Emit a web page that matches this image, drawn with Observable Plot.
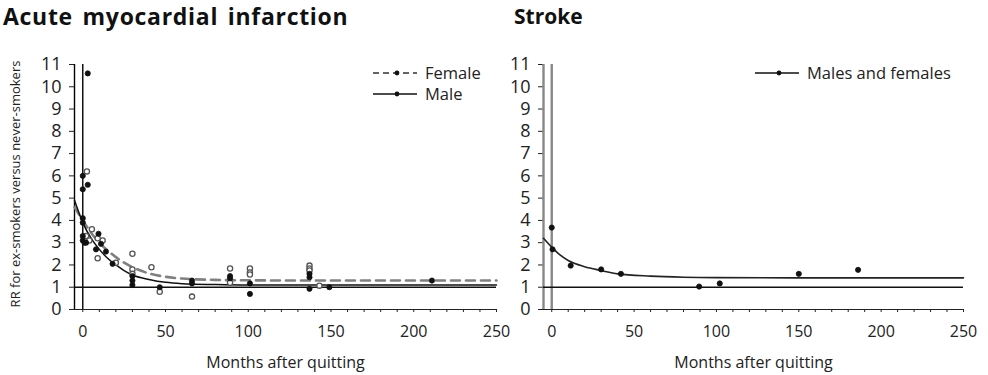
<!DOCTYPE html>
<html><head><meta charset="utf-8">
<script src="https://cdn.jsdelivr.net/npm/d3@7"></script>
<script src="https://cdn.jsdelivr.net/npm/@observablehq/plot@0.6"></script>
<style>
body{margin:0;background:#fff;font-family:"Open Sans",sans-serif;color:#222}
#wrap{position:relative;width:988px;height:375px;overflow:hidden}
.title{position:absolute;top:0px;font-weight:700;font-size:23px;color:#111;line-height:32px}
.panel{position:absolute;top:40px}
.legend{position:absolute;font-size:16.5px;color:#222;line-height:21px}
.legend div{display:flex;align-items:center;height:21px;line-height:21px}
.legend svg{margin-right:7px}
</style></head><body>
<div id="wrap">
  <div class="title" style="left:3px;letter-spacing:0.7px;word-spacing:3px">Acute myocardial infarction</div>
  <div class="title" style="left:514px;font-size:21px">Stroke</div>
  <div class="panel" id="left" style="left:0px"></div>
  <div class="panel" id="right" style="left:470px"></div>
  <div class="legend" id="legL" style="left:372px;top:62px"></div>
  <div class="legend" id="legR" style="left:754px;top:62px"></div>
</div>
<script>
// ---- Acute myocardial infarction: observed points ----
const amiMaleMonths = [3, 0, 3, 0, 0, 0, 0, 0, 1, 2, 9.5, 11, 8, 14, 18, 30, 30, 30, 46.5, 66, 66, 89, 89, 101, 101, 137, 137, 137, 149, 211];
const amiMaleRR     = [10.6, 6.0, 5.6, 5.4, 4.1, 3.9, 3.3, 3.1, 3.0, 3.0, 3.4, 2.95, 2.7, 2.6, 2.05, 1.5, 1.3, 1.1, 1.0, 1.3, 1.17, 1.5, 1.4, 1.17, 0.7, 1.6, 1.45, 0.93, 1.0, 1.3];
const amiFemaleMonths = [2.5, 2, 4, 5.5, 12, 9, 9, 20, 30, 30, 30, 41.5, 46.5, 66, 89, 89, 101, 101, 101, 137, 137, 137, 143];
const amiFemaleRR     = [6.2, 3.3, 3.1, 3.6, 3.1, 3.2, 2.3, 2.1, 2.5, 1.8, 1.6, 1.9, 0.8, 0.58, 1.84, 1.2, 1.84, 1.66, 1.57, 1.97, 1.84, 1.75, 1.07];
// ---- fitted curves ----
const amiCurveMonths = [-5, 0, 5, 10, 15, 20, 25, 30, 40, 50, 60, 80, 100, 150, 200, 250];
const amiMaleCurve   = [4.9, 3.9, 3.2, 2.7, 2.3, 2.0, 1.75, 1.55, 1.35, 1.22, 1.16, 1.12, 1.1, 1.1, 1.1, 1.1];
const amiFemaleCurve = [4.6, 4.0, 3.45, 3.0, 2.65, 2.35, 2.1, 1.9, 1.62, 1.47, 1.39, 1.33, 1.31, 1.3, 1.3, 1.3];
// ---- Stroke ----
const strokeMonths = [0, 0.5, 11.5, 30, 42, 89.5, 102, 150, 186];
const strokeRR     = [3.68, 2.7, 1.97, 1.8, 1.6, 1.03, 1.17, 1.6, 1.78];
const strokeCurveMonths = [-5, 0, 5, 10, 20, 30, 40, 60, 80, 100, 150, 250];
const strokeCurve       = [3.2, 2.8, 2.45, 2.2, 1.92, 1.75, 1.6, 1.5, 1.45, 1.43, 1.42, 1.42];
// ---- axes ----
const xTicks = d3.range(0, 251, 10);
const xTickLabels = [0, 50, 100, 150, 200, 250];
const yTicks = d3.range(0, 12, 1);
const xLabel = "Months after quitting";
const yLabel = "RR for ex-smokers versus never-smokers";

const zip = (xs, ys) => xs.map((x, i) => ({x, y: ys[i]}));

function basePlot(opts) {
  const {marks, width, marginLeft, marginRight, vColor, withYLabel} = opts;
  const black = vColor === "#000";
  return Plot.plot({
    width, height: 335,
    marginTop: 24, marginBottom: 66, marginLeft, marginRight,
    style: {fontFamily: "Open Sans, sans-serif", fontSize: "18px", color: "#222", background: "transparent", overflow: "visible"},
    x: {domain: [-5, 250]},
    y: {domain: [0, 11]},
    marks: [
      Plot.axisY(yTicks, {anchor: "left", tickSize: 5, tickPadding: 8, fontSize: 18, label: null}),
      Plot.axisX(xTicks, {anchor: "bottom", tickSize: 3, tickPadding: 13, fontSize: 16, label: null,
        tickFormat: d => xTickLabels.includes(d) ? String(d) : ""}),
      Plot.ruleX([-5], {y1: 0, y2: 11, stroke: vColor, strokeWidth: black ? 1.4 : 2.4}),
      Plot.ruleX([0], {y1: 0, y2: 11, stroke: vColor, strokeWidth: black ? 1.4 : 2.4}),
      Plot.ruleY([0], {x1: -5, x2: 250, stroke: "#222", strokeWidth: 1.2}),
      Plot.ruleY([1], {x1: -5, x2: 250, stroke: "#111", strokeWidth: 1.5}),
      ...marks,
      Plot.text([xLabel], {frameAnchor: "bottom", dy: 58, fontSize: 16, fill: "#222"}),
      ...(withYLabel ? [Plot.text([yLabel], {frameAnchor: "left", textAnchor: "middle", rotate: -90, dx: -59, dy: -3, fontSize: 13, fill: "#222"})] : [])
    ]
  });
}

const left = basePlot({
  width: 505, marginLeft: 74, marginRight: 9, vColor: "#000", withYLabel: true,
  marks: [
    Plot.line(zip(amiCurveMonths, amiFemaleCurve), {x: "x", y: "y", curve: "monotone-x", stroke: "#808080", strokeWidth: 2.6, strokeDasharray: "9,6"}),
    Plot.line(zip(amiCurveMonths, amiMaleCurve), {x: "x", y: "y", curve: "monotone-x", stroke: "#111", strokeWidth: 1.5}),
    Plot.dot(zip(amiFemaleMonths, amiFemaleRR), {x: "x", y: "y", r: 2.6, fill: "#fff", stroke: "#555", strokeWidth: 1.3}),
    Plot.dot(zip(amiMaleMonths, amiMaleRR), {x: "x", y: "y", r: 2.6, fill: "#111", stroke: "#111", strokeWidth: 0.8})
  ]
});
document.getElementById("left").appendChild(left);

const right = basePlot({
  width: 518, marginLeft: 73, marginRight: 25, vColor: "#888", withYLabel: false,
  marks: [
    Plot.line(zip(strokeCurveMonths, strokeCurve), {x: "x", y: "y", curve: "monotone-x", stroke: "#222", strokeWidth: 1.6}),
    Plot.dot(zip(strokeMonths, strokeRR), {x: "x", y: "y", r: 2.6, fill: "#111", stroke: "#111", strokeWidth: 0.8})
  ]
});
document.getElementById("right").appendChild(right);

function legendItem(label, dashed) {
  const d = document.createElement("div");
  d.innerHTML = `<svg width="46" height="10"><line x1="1" y1="5" x2="45" y2="5" stroke="${dashed ? "#333" : "#111"}" stroke-width="1.6" ${dashed ? 'stroke-dasharray="6,4"' : ""}/><circle cx="25" cy="5" r="2.4" fill="#111"/></svg><span>${label}</span>`;
  return d;
}
const legL = document.getElementById("legL");
legL.appendChild(legendItem("Female", true));
legL.appendChild(legendItem("Male", false));
document.getElementById("legR").appendChild(legendItem("Males and females", false));
</script>
</body></html>
